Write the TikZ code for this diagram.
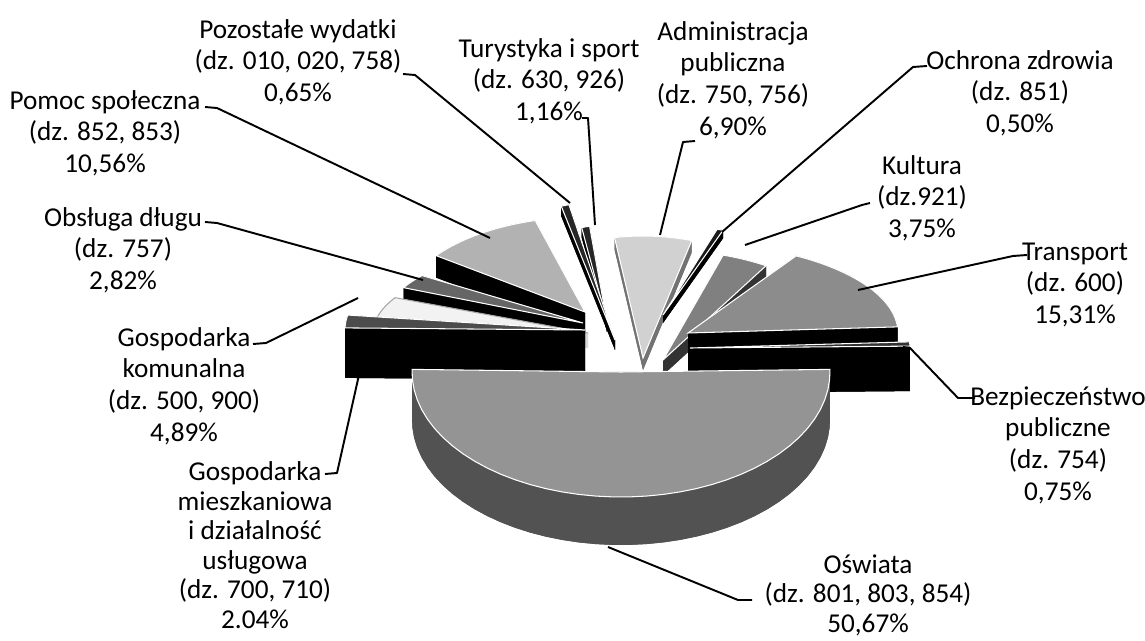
\documentclass[tikz,border=0pt]{standalone}
\usepackage{fontspec}
\setmainfont{Carlito}
\tikzstyle{lbl} = [align=center, inner sep=0pt, font=\fontsize{15.5}{18}\selectfont]
\tikzstyle{lbltight} = [align=center, inner sep=0pt, font=\fontsize{15.5}{16.8}\selectfont]
\tikzstyle{leader} = [line width=1.1pt, line join=round]
% 3D slice: apex x, apex y, x radius, y radius, start, end angle, depth, top, side
\newcommand{\pieslice}[9]{%
  \fill[#9] ({#1},{#2+#7}) -- plot[domain=#5:#6,samples=40] ({#1+#3*cos(\x)},{#2+#7-#4*sin(\x)}) -- cycle;
  \fill[#9] ({#1},{#2}) -- ({#1+#3*cos(#5)},{#2-#4*sin(#5)}) -- ({#1+#3*cos(#5)},{#2+#7-#4*sin(#5)}) -- ({#1},{#2+#7}) -- cycle;
  \fill[#9] ({#1},{#2}) -- ({#1+#3*cos(#6)},{#2-#4*sin(#6)}) -- ({#1+#3*cos(#6)},{#2+#7-#4*sin(#6)}) -- ({#1},{#2+#7}) -- cycle;
  \fill[#9] plot[domain=#5:#6,samples=40] ({#1+#3*cos(\x)},{#2-#4*sin(\x)}) -- plot[domain=#6:#5,samples=40] ({#1+#3*cos(\x)},{#2+#7-#4*sin(\x)}) -- cycle;
  \filldraw[line width=0.6pt, #8] ({#1},{#2}) -- plot[domain=#5:#6,samples=40] ({#1+#3*cos(\x)},{#2-#4*sin(\x)}) -- cycle;
}

\begin{document}
\begin{tikzpicture}[x=0.02cm, y=-0.02cm]
\useasboundingbox (0,0) rectangle (1145,641);

% slices, back to front
\pieslice{643}{358}{180}{122}{74.3}{99.1}{12}{fill=black!18,draw=white}{fill=black!55}
\pieslice{607}{322}{110}{97}{99.1}{103.3}{10}{fill=black!85,draw=white}{fill=black}
\pieslice{615}{340}{200}{139}{103.3}{105.6}{10}{fill=black!85,draw=white}{fill=black}
\pieslice{663}{315}{200}{89}{72.5}{74.3}{8}{fill=black!90,draw=white}{fill=black}
\pieslice{663}{360}{200}{110}{59}{72.5}{15}{fill=black!50,draw=white}{fill=black!80}
\pieslice{585}{312}{185}{95}{105.6}{143.6}{22}{fill=black!30,draw=white}{fill=black}
\pieslice{688}{333}{210}{90}{3.9}{59}{45}{fill=black!45,draw=white}{fill=black}
\pieslice{583}{323}{200}{80}{143.6}{153.8}{22}{fill=black!60,draw=white}{fill=black}
\pieslice{588}{333}{215}{80}{153.8}{171.4}{15}{fill=black!5,draw=black!35}{fill=black!15}
\pieslice{585}{330}{240}{100}{171.4}{178.8}{50}{fill=black!70,draw=white}{fill=black}
\pieslice{690}{348}{220}{90}{1.2}{3.9}{45}{fill=black!80,draw=white}{fill=black}
\pieslice{621}{372}{209}{125}{178.8}{361.2}{48}{fill=black!42,draw=white}{fill=black!68}

% labels
\node (pozostale) [lbl] at (298,62) {Pozostałe wydatki\\(dz. 010, 020, 758)\\0,65\%};
\node (turystyka) [lbl] at (549,81) {Turystyka i sport\\(dz. 630, 926)\\1,16\%};
\node (admin) [lbl] at (733,80) {Administracja\\publiczna\\(dz. 750, 756)\\6,90\%};
\node (ochrona) [lbl] at (1020,93) {Ochrona zdrowia\\(dz. 851)\\0,50\%};
\node (kultura) [lbl] at (922,198) {Kultura\\(dz.921)\\3,75\%};
\node (transport) [lbl] at (1075,285) {Transport\\(dz. 600)\\15,31\%};
\node (bezp) [lbl] at (1058,445) {Bezpieczeństwo\\publiczne\\(dz. 754)\\0,75\%};
\node (oswiata) [lbltight] at (868,595) {Oświata\\(dz. 801, 803, 854)\\50,67\%};
\node (gospmiesz) [lbltight] at (255,545) {Gospodarka\\mieszkaniowa\\i działalność\\usługowa\\(dz. 700, 710)\\2.04\%};
\node (gospkom) [lbl] at (184,386) {Gospodarka\\komunalna\\(dz. 500, 900)\\4,89\%};
\node (obsluga) [lbl] at (123,250) {Obsługa długu\\(dz. 757)\\2,82\%};
\node (pomoc) [lbl] at (105,133) {Pomoc społeczna\\(dz. 852, 853)\\10,56\%};

% leader ends
\coordinate (pozostaleA) at (403,74);   \coordinate (pozostaleB) at (570,203);
\coordinate (turystykaA) at (582,118);  \coordinate (turystykaB) at (595,225);
\coordinate (adminA) at (695,141);      \coordinate (adminB) at (660,235);
\coordinate (ochronaA) at (927,66);     \coordinate (ochronaB) at (722,232);
\coordinate (kulturaA) at (870,203);    \coordinate (kulturaB) at (745,245);
\coordinate (transportA) at (1027,255); \coordinate (transportB) at (858,290);
\coordinate (bezpA) at (975,398);       \coordinate (bezpB) at (903,347);
\coordinate (oswiataA) at (752,600);    \coordinate (oswiataB) at (608,547);
\coordinate (gospmieszA) at (325,474);  \coordinate (gospmieszB) at (363,357);
\coordinate (gospkomA) at (253,344);    \coordinate (gospkomB) at (358,298);
\coordinate (obslugaA) at (205,222);    \coordinate (obslugaB) at (423,280);
\coordinate (pomocA) at (205,107);      \coordinate (pomocB) at (490,238);

\draw [leader] (pozostaleA) -- ++(12,1) -- (pozostaleB);
\draw [leader] (turystykaA) -- ++(6,0) -- (turystykaB);
\draw [leader] (adminA) -- ++(-12,1) -- (adminB);
\draw [leader] (ochronaA) -- ++(-14,1) -- (ochronaB);
\draw [leader] (kulturaA) -- ++(-8,2) -- (kulturaB);
\draw [leader] (transportA) -- ++(-14,1) -- (transportB);
\draw [leader] (bezpA) -- ++(-17,0) -- ++(-48,-50) -- (bezpB);
\draw [leader] (oswiataA) -- ++(-14,0) -- (oswiataB);
\draw [leader] (gospmieszA) -- ++(12,-1) -- (gospmieszB);
\draw [leader] (gospkomA) -- ++(13,-1) -- (gospkomB);
\draw [leader] (obslugaA) -- ++(12,1) -- (obslugaB);
\draw [leader] (pomocA) -- ++(12,1) -- (pomocB);

\end{tikzpicture}
\end{document}
